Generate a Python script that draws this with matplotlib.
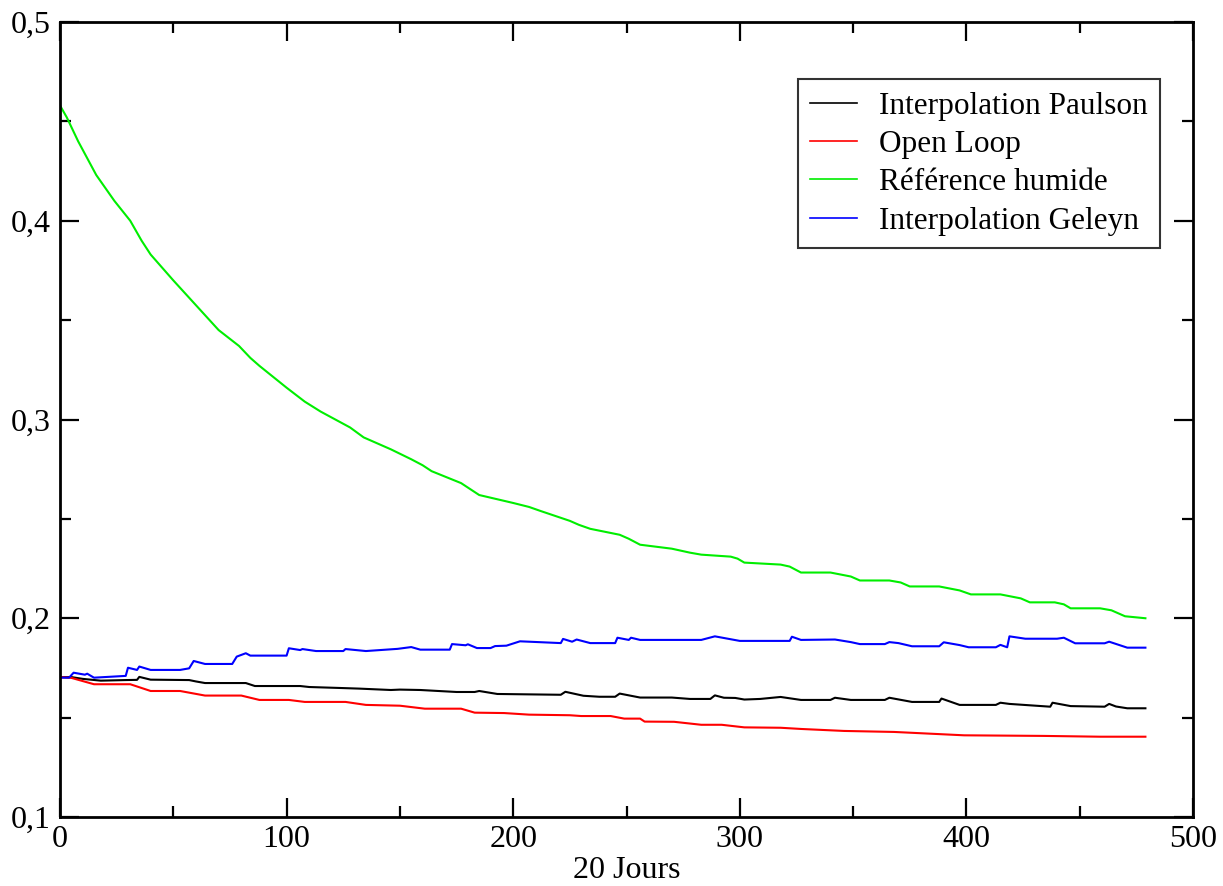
import matplotlib
matplotlib.use("Agg")
import matplotlib.pyplot as plt
from matplotlib.ticker import MultipleLocator, FuncFormatter

plt.rcParams['font.family'] = ['Liberation Serif', 'DejaVu Serif']

# --- data ---
x_green = [0, 3, 8, 16, 24, 31, 36, 40, 50, 62, 70, 79, 84, 88, 100, 108, 115, 128, 134, 140, 146,
           155, 160, 164, 177, 181, 185, 200, 207, 212, 225, 229, 234, 247, 251, 256, 270, 274, 278, 283,
           296, 299, 302, 318, 322, 327, 340, 349, 353, 366, 371, 375, 388, 397, 402, 415, 424, 428, 439,
           443, 446, 459, 464, 470, 479]
y_green = [0.458, 0.452, 0.440, 0.423, 0.410, 0.400, 0.390, 0.383, 0.370, 0.355, 0.345, 0.337, 0.331,
           0.327, 0.316, 0.309, 0.304, 0.296, 0.291, 0.288, 0.285, 0.280, 0.277, 0.274, 0.268, 0.265,
           0.262, 0.258, 0.256, 0.254, 0.249, 0.247, 0.245, 0.242, 0.240, 0.237, 0.235, 0.234, 0.233,
           0.232, 0.231, 0.230, 0.228, 0.227, 0.226, 0.223, 0.223, 0.221, 0.219, 0.219, 0.218, 0.216,
           0.216, 0.214, 0.212, 0.212, 0.210, 0.208, 0.208, 0.207, 0.205, 0.205, 0.204, 0.201, 0.200]

x_black = [0, 5, 10, 18, 29, 34, 35, 40, 57, 60, 64, 82, 86, 106, 110, 124, 132, 146, 150, 159,
           175, 183, 185, 193, 221, 223, 231, 238, 245, 247, 256, 270, 278, 287, 289, 293, 298, 302,
           309, 318, 327, 340, 342, 349, 364, 366, 376, 388, 389, 397, 413, 415, 419, 437, 438, 446,
           461, 463, 466, 471, 479]
y_black = [0.1704, 0.1704, 0.1695, 0.1686, 0.1689, 0.1690, 0.1705, 0.1691, 0.1689, 0.1682, 0.1674,
           0.1674, 0.1659, 0.1659, 0.1654, 0.1649, 0.1646, 0.1639, 0.1641, 0.1639, 0.1629, 0.1629,
           0.1634, 0.1619, 0.1615, 0.1630, 0.1610, 0.1605, 0.1605, 0.1621, 0.1601, 0.1601, 0.1594,
           0.1594, 0.1612, 0.1600, 0.1599, 0.1591, 0.1594, 0.1604, 0.1589, 0.1589, 0.1600, 0.1589,
           0.1589, 0.1600, 0.1579, 0.1579, 0.1596, 0.1564, 0.1564, 0.1575, 0.1569, 0.1555, 0.1575,
           0.1558, 0.1555, 0.1569, 0.1556, 0.1547, 0.1547]

x_red = [0, 5, 15, 31, 40, 53, 64, 80, 88, 101, 108, 126, 135, 150, 161, 177, 183, 196, 207, 225,
         230, 243, 249, 256, 258, 271, 283, 292, 302, 318, 327, 346, 368, 399, 434, 459, 479]
y_red = [0.1704, 0.1700, 0.1668, 0.1668, 0.1634, 0.1634, 0.1611, 0.1611, 0.1589, 0.1589, 0.1579,
         0.1579, 0.1564, 0.1560, 0.1545, 0.1545, 0.1525, 0.1523, 0.1515, 0.1512, 0.1508, 0.1508,
         0.1495, 0.1495, 0.1480, 0.1479, 0.1464, 0.1464, 0.1451, 0.1449, 0.1443, 0.1433, 0.1428,
         0.1411, 0.1408, 0.1404, 0.1404]

x_blue = [0, 4, 6, 11, 12, 15, 29, 30, 34, 35, 40, 53, 57, 59, 64, 76, 78, 82, 84, 100, 101, 106,
          107, 113, 125, 126, 135, 149, 155, 159, 172, 173, 179, 180, 184, 190, 192, 197, 203, 221,
          222, 226, 228, 234, 245, 246, 251, 252, 256, 283, 289, 300, 309, 322, 323, 327, 342, 349,
          353, 364, 366, 370, 376, 388, 390, 397, 401, 413, 415, 418, 419, 426, 440, 443, 448, 461,
          463, 471, 479]
y_blue = [0.1701, 0.1701, 0.1726, 0.1716, 0.1721, 0.1701, 0.1710, 0.1751, 0.1740, 0.1757, 0.1740,
          0.1740, 0.1748, 0.1785, 0.1770, 0.1770, 0.1807, 0.1824, 0.1812, 0.1812, 0.1849, 0.1840,
          0.1845, 0.1835, 0.1835, 0.1845, 0.1835, 0.1846, 0.1855, 0.1842, 0.1842, 0.1870, 0.1864,
          0.1869, 0.1850, 0.1850, 0.1860, 0.1862, 0.1884, 0.1875, 0.1896, 0.1882, 0.1893, 0.1875,
          0.1875, 0.1902, 0.1891, 0.1902, 0.1891, 0.1891, 0.1909, 0.1886, 0.1886, 0.1886, 0.1907,
          0.1891, 0.1893, 0.1880, 0.1870, 0.1870, 0.1880, 0.1875, 0.1859, 0.1859, 0.1879, 0.1865,
          0.1854, 0.1854, 0.1866, 0.1854, 0.1909, 0.1897, 0.1897, 0.1902, 0.1874, 0.1874, 0.1882,
          0.1852, 0.1852]

series = [
    ("Interpolation Paulson", x_black, y_black, "#000000"),
    ("Open Loop", x_red, y_red, "#ff0000"),
    ("Référence humide", x_green, y_green, "#00ee00"),
    ("Interpolation Geleyn", x_blue, y_blue, "#0000ff"),
]

fig = plt.figure(figsize=(12.23, 8.86), dpi=100)
ax = fig.add_axes([60/1223, 69/886, 1133/1223, 795/886])

for label, xs, ys, c in series:
    ax.plot(xs, ys, color=c, lw=1.5, label=label)

ax.set_xlim(0, 500)
ax.set_ylim(0.1, 0.5)
ax.xaxis.set_major_locator(MultipleLocator(100))
ax.xaxis.set_minor_locator(MultipleLocator(50))
ax.yaxis.set_major_locator(MultipleLocator(0.1))
ax.yaxis.set_minor_locator(MultipleLocator(0.05))
ax.yaxis.set_major_formatter(FuncFormatter(lambda v, p: f"{v:.1f}".replace(".", ",")))
ax.tick_params(which='both', direction='in', top=True, right=True, width=1.6)
ax.tick_params(which='major', length=14)
ax.tick_params(which='minor', length=8)
ax.tick_params(axis='x', which='major', labelsize=23, pad=6)
ax.tick_params(axis='y', which='major', labelsize=23, pad=7)
for s in ax.spines.values():
    s.set_linewidth(2)
ax.set_xlabel("20 Jours", fontsize=23, labelpad=1)

leg = ax.legend(loc='upper right', bbox_to_anchor=(1100/1133, 738/795), fontsize=22.5,
                frameon=True, fancybox=False, edgecolor='black', borderaxespad=0,
                handlelength=1.5, handletextpad=0.7, labelspacing=0.3, borderpad=0.4)
leg.get_frame().set_linewidth(1.5)
for h in leg.get_lines():
    h.set_linewidth(1.2)

fig.savefig("out.png", dpi=100)
